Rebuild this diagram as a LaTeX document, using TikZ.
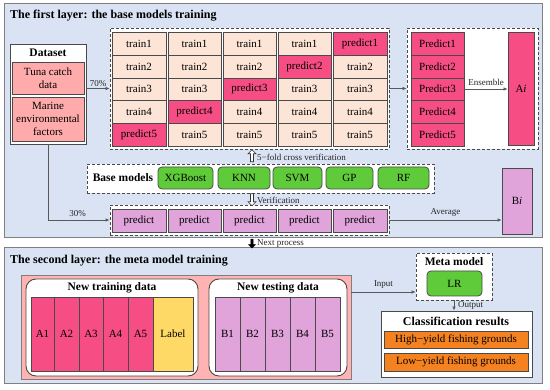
\documentclass[tikz,border=0pt]{standalone}
\usepackage{fontspec}
\setmainfont{Liberation Serif}
\usetikzlibrary{arrows.meta,shapes.arrows}
\definecolor{panelc}{HTML}{DAE3F3}
\definecolor{panelline}{HTML}{7F7F7F}
\definecolor{trainc}{HTML}{FCE4D6}
\definecolor{predc}{HTML}{F54D84}
\definecolor{plumc}{HTML}{E0A3DA}
\definecolor{greenc}{HTML}{5FCB3A}
\definecolor{pinkc}{HTML}{FFABAB}
\definecolor{salmonc}{HTML}{FFB3B3}
\definecolor{yellowc}{HTML}{FFD966}
\definecolor{orangec}{HTML}{F58220}
\definecolor{cellline}{HTML}{4A4A4A}
\definecolor{arrc}{HTML}{595959}
\newcommand{\bx}[7]{\node[#1,minimum width={#5-#3},minimum height={#6-#4}] (#2) at ({(#3+#5)/2},{(#4+#6)/2}) {#7};}
\begin{document}
\begin{tikzpicture}[x=1pt,y=-1pt,
  cellb/.style={draw=cellline,line width=0.8pt,inner sep=0pt,font=\fontsize{11}{13}\selectfont,align=center},
  train/.style={cellb,fill=trainc},
  pred/.style={cellb,fill=predc},
  plum/.style={cellb,fill=plumc},
  dbox/.style={draw=cellline,dash pattern=on 3pt off 2pt,line width=0.8pt,fill=white,inner sep=0pt},
  panelbox/.style={draw=panelline,line width=1pt,fill=panelc,inner sep=0pt},
  gbtn/.style={cellb,fill=greenc,rounded corners=4pt},
  solidbox/.style={draw=cellline,line width=0.9pt,fill=white,inner sep=0pt},
  rbox/.style={solidbox,rounded corners=10pt},
  arr/.style={draw=arrc,line width=0.6pt,-{Latex[length=4pt,width=3.5pt]}},
  lbl/.style={font=\fontsize{9}{10}\selectfont,inner sep=1pt,text=black!85},
  ttl/.style={font=\fontsize{12}{14}\bfseries\selectfont,inner sep=0pt},
  sub/.style={font=\fontsize{11.5}{13}\bfseries\selectfont,inner sep=0pt},
  hollow/.style={single arrow,draw=black!80,fill=white,line width=0.6pt,minimum height=12pt,minimum width=8pt,single arrow head extend=1.5pt,inner sep=0.6pt}
]
\useasboundingbox (0,0) rectangle (550,390);
% panels
\bx{panelbox}{panelA}{4}{4}{542}{238}{}
\bx{panelbox}{panelB}{4}{248}{542}{384}{}
\node[ttl,anchor=west] (titleA) at (10,16) {The first layer: the base models training};
\node[ttl,anchor=west] (titleB) at (10,261) {The second layer: the meta model training};
% dataset
\bx{solidbox}{dataset}{10}{44}{86}{144}{}
\node[sub] (dstitle) at (48,53) {Dataset};
\bx{cellb,fill=pinkc}{tuna}{12}{62}{84}{94}{Tuna catch\\data}
\bx{cellb,fill=pinkc}{marine}{12}{97}{84}{141}{Marine\\environmental\\factors}
% training grid
\bx{dbox}{grid}{110}{28}{389}{149}{}
\foreach \c/\xa/\xb in {1/112/166,2/168/221,3/223/276,4/278/331,5/333/387}{
  \foreach \r/\ya/\yb in {1/32/55,2/55/78,3/78/100,4/100/123,5/123/146}{
    \ifnum\numexpr\c+\r\relax=6
      \bx{pred}{g\c\r}{\xa}{\ya}{\xb}{\yb}{predict\r}
    \else
      \bx{train}{g\c\r}{\xa}{\ya}{\xb}{\yb}{train\r}
    \fi
  }
}
% predict box
\bx{dbox}{predbox}{407}{28}{538}{149}{}
\foreach \r/\ya/\yb in {1/32/55,2/55/78,3/78/100,4/100/123,5/123/146}{
  \bx{pred}{P\r}{411}{\ya}{464}{\yb}{Predict\r}
}
\bx{pred}{Ai}{508}{32}{534}{145}{A\textit{i}}
% base models
\bx{dbox}{base}{87}{164}{434}{193}{}
\node[sub] (basettl) at (123,178) {Base models};
\bx{gbtn}{xgb}{158}{167}{213}{189}{XGBoost}
\bx{gbtn}{knn}{218}{167}{270}{189}{KNN}
\bx{gbtn}{svm}{273}{167}{322}{189}{SVM}
\bx{gbtn}{gp}{326}{167}{373}{189}{GP}
\bx{gbtn}{rf}{378}{167}{429}{189}{RF}
% predict row
\bx{dbox}{prow}{110}{205}{389}{235}{}
\foreach \c/\xa/\xb in {1/112/166,2/168/221,3/223/276,4/278/331,5/333/387}{
  \bx{plum}{q\c}{\xa}{209}{\xb}{232}{predict}
}
\bx{plum}{Bi}{502}{168}{532}{234}{B\textit{i}}
% hollow arrows
\node[hollow,shape border rotate=90] (upA) at (252,156.5) {};
\node[hollow,shape border rotate=270] (dnA) at (252,199) {};
\node[single arrow,draw=black,fill=black,minimum height=9pt,minimum width=7pt,single arrow head extend=1.5pt,inner sep=0.5pt,shape border rotate=270] (nextA) at (252,243) {};
\node[lbl,anchor=west] (fold) at (256,157) {5−fold cross verification};
\node[lbl,anchor=west] (verif) at (256,200) {Verification};
\node[lbl,anchor=west] (nextp) at (256,244) {Next process};
% connectors top
\draw[arr] (dataset.east |- grid.west) -- node[lbl,above=1pt] (p70) {70\%} (grid.west);
\draw[arr] (grid.east) -- (predbox.west);
\draw[arr] (P3.east) -- node[lbl,above=2pt] (ens) {Ensemble} (P3.east -| Ai.west);
\draw[arr] (dataset.south) |- node[lbl,pos=0.74,above=2pt] (p30) {30\%} (prow.west);
\draw[arr] (prow.east) -- node[lbl,above=2pt] (avg) {Average} (prow.east -| Bi.west);
% second layer
\bx{cellb,draw=panelline,fill=salmonc}{pink}{21}{275}{351}{379}{}
\bx{rbox}{newtrain}{26}{279}{198}{376}{}
\node[sub] (ntt) at (112,288) {New training data};
\foreach \n/\xa/\xb in {1/31/54,2/54/79,3/79/103,4/103/128,5/128/153}{
  \bx{pred}{A\n}{\xa}{297}{\xb}{371}{A\n}
}
\bx{cellb,fill=yellowc}{label}{153}{297}{193}{371}{Label}
\bx{rbox}{newtest}{209}{279}{347}{376}{}
\node[sub] (nte) at (278,288) {New testing data};
\foreach \n/\xa/\xb in {1/215/240,2/240/265,3/265/290,4/290/315,5/315/340}{
  \bx{plum}{B\n}{\xa}{297}{\xb}{371}{B\n}
}
% meta model
\bx{dbox}{meta}{416}{253}{492}{300}{}
\node[sub] (metattl) at (454,262) {Meta model};
\bx{gbtn}{lr}{427}{271}{482}{296}{LR}
\coordinate (inrow) at (0,292);
\draw[arr] (pink.east |- inrow) -- node[lbl,above=2pt] (inp) {Input} (meta.west |- inrow);
\bx{solidbox}{cls}{381}{311}{532}{377}{}
\draw[arr] (meta.south) -- (meta.south |- cls.north);
\node[lbl,anchor=west] (outp) at (457,305) {Output};
\node[sub,font=\fontsize{12}{14}\bfseries\selectfont] (clsttl) at (456,321) {Classification results};
\bx{cellb,fill=orangec}{high}{384}{331}{528}{348}{High−yield fishing grounds}
\bx{cellb,fill=orangec}{low}{384}{353}{528}{371}{Low−yield fishing grounds}
\end{tikzpicture}
\end{document}
